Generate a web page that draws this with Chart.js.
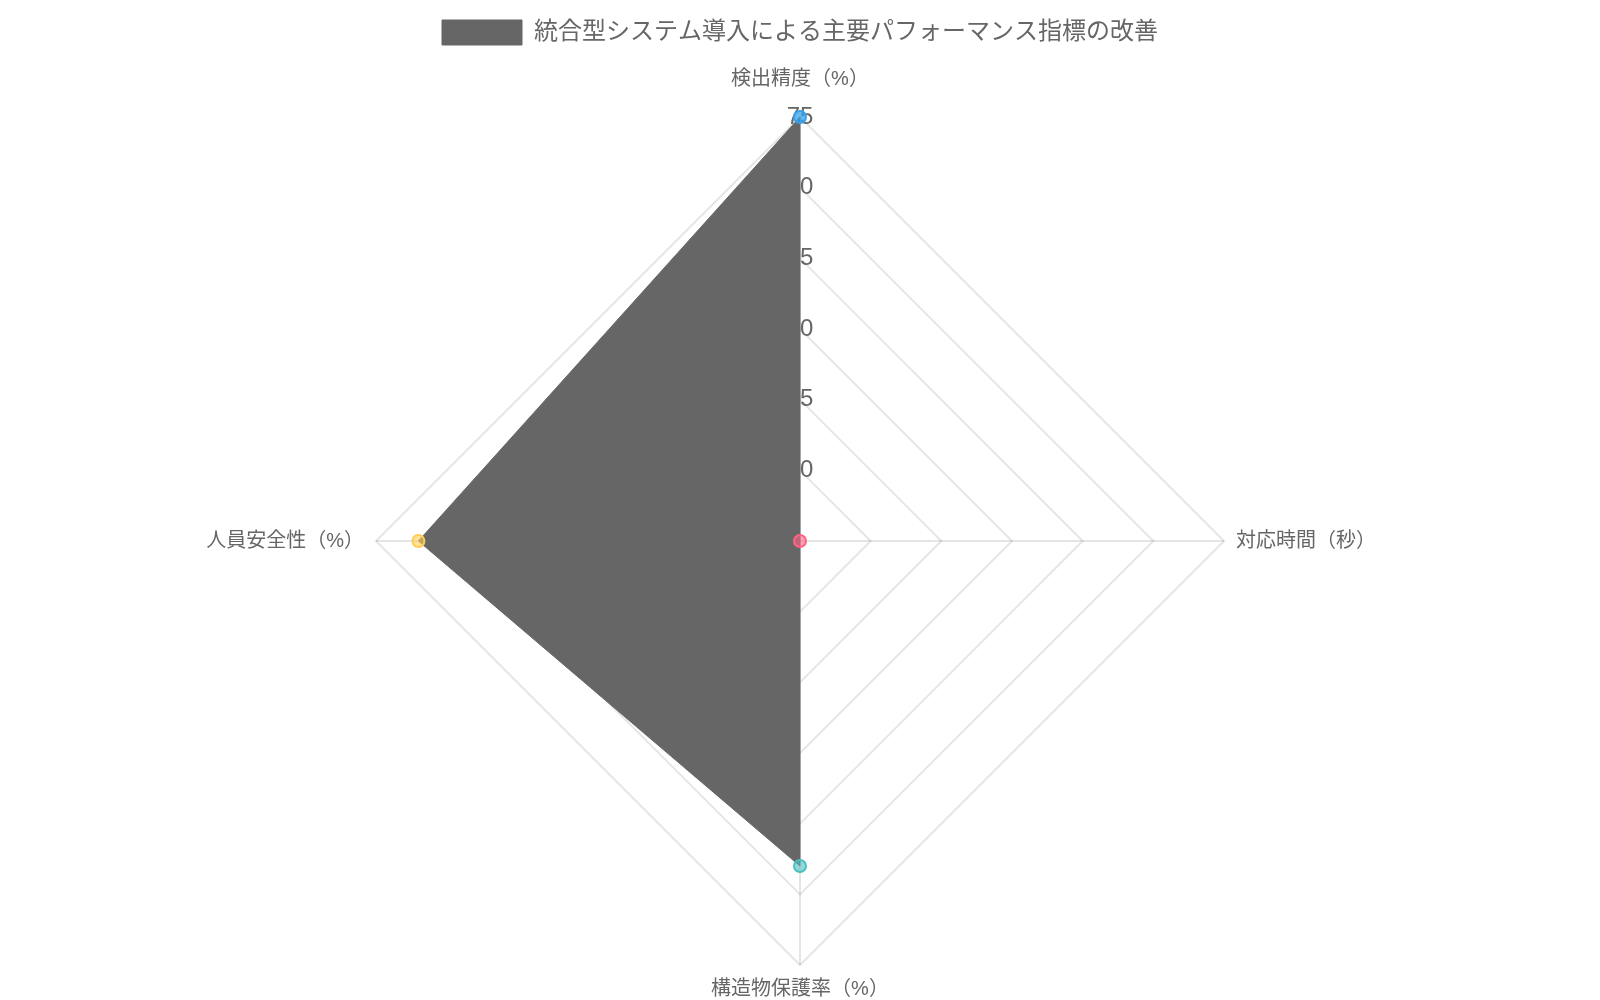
<!DOCTYPE html>
<html lang="ja">
<head>
<meta charset="utf-8">
<title>統合型システム導入による主要パフォーマンス指標の改善</title>
<script src="https://cdn.jsdelivr.net/npm/chart.js@4.4.1/dist/chart.umd.min.js"></script>
<style>
    html, body { margin: 0; padding: 0; background: #ffffff; overflow: hidden; }
    body { margin: 8px; }
    #wrap { width: 1584px; height: 1000px; }
</style>
</head>
<body>
<div id="wrap"><canvas id="radarChart"></canvas></div>
<script>
// 🔹 DATA
const labels = ["検出精度（%）", "対応時間（秒）", "構造物保護率（%）", "人員安全性（%）"];
const valores = [75, 45, 68, 72];
const nombreSerie = "統合型システム導入による主要パフォーマンス指標の改善";
const tickMin = 45;
const tickMax = 75;
const tickStep = 5;

// 🎨 COLORS
const pointFill = ["rgba(54,162,235,0.75)", "rgba(255,99,132,0.6)", "rgba(75,192,192,0.6)", "rgba(255,205,86,0.6)"];
const pointBorder = ["#36A2EB", "#FF6384", "#4BC0C0", "#FFCD56"];

Chart.defaults.font.family = "'Helvetica Neue', Helvetica, Arial, 'Noto Sans CJK JP', sans-serif";
Chart.defaults.color = "#666";

// 📏 extra space under the legend
const legendMargin = {
    id: "legendMargin",
    beforeInit: (chart) => {
        const fitOrig = chart.legend.fit;
        chart.legend.fit = function fit(){
            fitOrig.bind(chart.legend)();
            this.height += 5;
        };
    }
};

// 📊 RADAR
new Chart(document.getElementById("radarChart"), {
    type: "radar",
    data: {
        labels: labels,
        datasets: [{
            label: nombreSerie,
            data: valores,
            backgroundColor: "#666666",
            borderColor: "#666666",
            borderWidth: 1,
            pointBackgroundColor: pointFill,
            pointBorderColor: pointBorder,
            pointBorderWidth: 2,
            pointRadius: 6
        }]
    },
    options: {
        responsive: true,
        maintainAspectRatio: false,
        animation: false,
        layout: { padding: { top: 2 } },
        scales: {
            r: {
                min: tickMin,
                max: tickMax,
                ticks: {
                    stepSize: tickStep,
                    showLabelBackdrop: false,
                    backdropPadding: 0,
                    color: "#666",
                    font: { size: 24 }
                },
                pointLabels: {
                    color: "#666",
                    font: { size: 20 },
                    padding: (ctx) => ctx.index === 0 ? 14 : 0
                },
                grid: { color: "rgba(0,0,0,0.1)", lineWidth: 2 },
                angleLines: { color: "rgba(0,0,0,0.1)", lineWidth: 2 }
            }
        },
        plugins: {
            legend: {
                labels: {
                    boxWidth: 80,
                    boxHeight: 25,
                    color: "#666",
                    font: { size: 24 }
                }
            }
        }
    },
    plugins: [legendMargin]
});
</script>
</body>
</html>
